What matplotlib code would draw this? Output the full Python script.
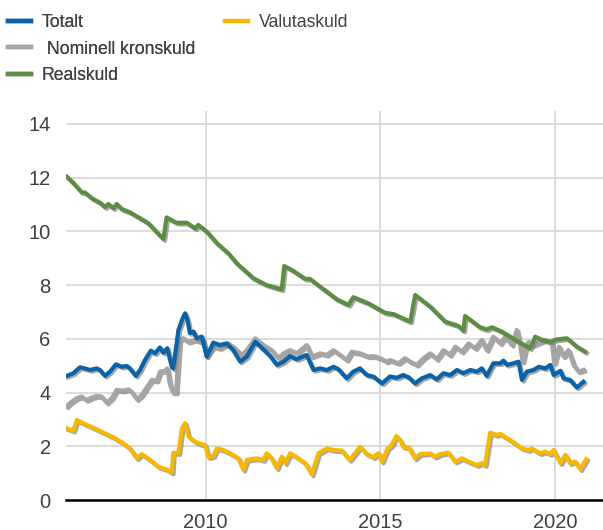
import matplotlib
matplotlib.use("Agg")
import matplotlib.pyplot as plt
import matplotlib.patheffects as pe
from matplotlib.lines import Line2D

plt.rcParams['font.family'] = ['Liberation Sans', 'DejaVu Sans']

# decimal year / percent
tot_x = [2006.02, 2006.21, 2006.40, 2006.54, 2006.69, 2006.88, 2006.97, 2007.12, 2007.26, 2007.43,
         2007.60, 2007.74, 2007.83, 2008.00, 2008.12, 2008.26, 2008.43, 2008.55, 2008.69, 2008.79,
         2008.90, 2009.03, 2009.07, 2009.22, 2009.34, 2009.41, 2009.48, 2009.55, 2009.65, 2009.74,
         2009.89, 2010.03, 2010.22, 2010.41, 2010.60, 2010.79, 2010.99, 2011.18, 2011.42, 2011.65,
         2011.85, 2012.04, 2012.23, 2012.42, 2012.61, 2012.89, 2013.09, 2013.28, 2013.47, 2013.66,
         2013.80, 2014.04, 2014.23, 2014.42, 2014.62, 2014.81, 2015.05, 2015.28, 2015.47, 2015.66,
         2015.81, 2016.00, 2016.19, 2016.43, 2016.62, 2016.81, 2017.00, 2017.20, 2017.38, 2017.58,
         2017.77, 2017.91, 2018.05, 2018.24, 2018.44, 2018.53, 2018.63, 2018.87, 2018.96, 2019.06,
         2019.20, 2019.39, 2019.54, 2019.73, 2019.87, 2019.97, 2020.16, 2020.25, 2020.44, 2020.63,
         2020.82]
tot_y = [4.62, 4.72, 4.94, 4.90, 4.84, 4.90, 4.84, 4.62, 4.78, 5.05,
         4.96, 4.99, 4.90, 4.62, 4.84, 5.21, 5.56, 5.46, 5.68, 5.48,
         5.65, 4.96, 4.90, 6.33, 6.76, 6.95, 6.70, 6.21, 6.27, 6.02,
         6.08, 5.34, 5.86, 5.77, 5.83, 5.58, 5.15, 5.34, 5.89, 5.61,
         5.36, 5.03, 5.15, 5.36, 5.24, 5.40, 4.84, 4.90, 4.84, 4.96,
         4.87, 4.53, 4.78, 4.90, 4.65, 4.59, 4.34, 4.60, 4.55, 4.65,
         4.57, 4.34, 4.53, 4.65, 4.49, 4.72, 4.65, 4.84, 4.72, 4.84,
         4.78, 4.90, 4.62, 5.09, 5.09, 5.19, 5.03, 5.11, 5.15, 4.47,
         4.78, 4.84, 4.96, 4.90, 5.03, 4.65, 4.81, 4.53, 4.47, 4.19,
         4.40]

nom_x = [2006.02, 2006.16, 2006.31, 2006.45, 2006.59, 2006.74, 2006.88, 2007.02, 2007.17, 2007.31,
         2007.45, 2007.64, 2007.79, 2007.88, 2008.03, 2008.17, 2008.31, 2008.46, 2008.60, 2008.69,
         2008.84, 2008.90, 2008.98, 2009.06, 2009.15, 2009.25, 2009.36, 2009.50, 2009.70, 2009.84,
         2009.93, 2010.03, 2010.22, 2010.41, 2010.65, 2010.84, 2011.03, 2011.18, 2011.42, 2011.65,
         2011.89, 2012.08, 2012.23, 2012.42, 2012.61, 2012.89, 2013.04, 2013.28, 2013.47, 2013.66,
         2013.85, 2014.04, 2014.18, 2014.42, 2014.66, 2014.81, 2015.00, 2015.19, 2015.28, 2015.52,
         2015.71, 2015.86, 2016.05, 2016.24, 2016.43, 2016.62, 2016.81, 2017.00, 2017.15, 2017.34,
         2017.53, 2017.72, 2017.91, 2018.05, 2018.24, 2018.44, 2018.58, 2018.77, 2018.91, 2019.01,
         2019.08, 2019.15, 2019.25, 2019.39, 2019.54, 2019.73, 2019.92, 2019.98, 2020.12, 2020.25,
         2020.39, 2020.54, 2020.68, 2020.82]
nom_y = [3.50, 3.66, 3.79, 3.85, 3.72, 3.82, 3.87, 3.85, 3.62, 3.79,
         4.10, 4.07, 4.12, 4.03, 3.75, 3.91, 4.19, 4.47, 4.44, 4.78,
         4.81, 4.90, 4.28, 4.00, 4.00, 5.96, 6.02, 5.89, 5.96, 5.90,
         5.96, 5.36, 5.71, 5.65, 5.83, 5.65, 5.40, 5.58, 6.02, 5.77,
         5.58, 5.28, 5.46, 5.58, 5.46, 5.77, 5.34, 5.46, 5.40, 5.58,
         5.40, 5.21, 5.52, 5.46, 5.34, 5.36, 5.28, 5.15, 5.21, 5.09,
         5.28, 5.15, 5.03, 5.28, 5.46, 5.24, 5.58, 5.40, 5.71, 5.52,
         5.83, 5.65, 5.96, 5.58, 6.08, 5.83, 6.08, 5.77, 6.33, 5.71,
         5.15, 5.58, 5.89, 5.77, 5.86, 5.96, 5.83, 5.09, 5.71, 5.34,
         5.58, 5.03, 4.78, 4.84]

real_x = [2006.02, 2006.26, 2006.45, 2006.54, 2006.74, 2006.97, 2007.12, 2007.21, 2007.36, 2007.45,
          2007.60, 2007.83, 2008.21, 2008.36, 2008.79, 2008.88, 2009.17, 2009.46, 2009.70, 2009.79,
          2010.03, 2010.32, 2010.65, 2010.89, 2011.37, 2011.75, 2012.18, 2012.25, 2012.51, 2012.85,
          2012.99, 2013.28, 2013.76, 2014.09, 2014.23, 2014.66, 2015.14, 2015.38, 2015.86, 2016.00,
          2016.43, 2016.86, 2017.24, 2017.38, 2017.43, 2017.86, 2018.05, 2018.20, 2018.48, 2018.96,
          2019.30, 2019.44, 2019.63, 2019.87, 2020.06, 2020.35, 2020.63, 2020.87]
real_y = [12.04, 11.73, 11.45, 11.45, 11.23, 11.07, 10.90, 11.02, 10.86, 11.02,
          10.83, 10.71, 10.42, 10.30, 9.71, 10.52, 10.32, 10.32, 10.11, 10.24,
          9.99, 9.56, 9.18, 8.81, 8.25, 8.00, 7.84, 8.71, 8.53, 8.23,
          8.23, 7.94, 7.47, 7.26, 7.55, 7.32, 6.97, 6.92, 6.64, 7.63,
          7.20, 6.64, 6.48, 6.30, 6.85, 6.43, 6.35, 6.43, 6.27, 5.89,
          5.65, 6.08, 5.96, 5.89, 5.98, 6.02, 5.71, 5.52]

val_x = [2006.02, 2006.21, 2006.31, 2006.54, 2006.88, 2007.12, 2007.36, 2007.64, 2007.83, 2008.03,
         2008.17, 2008.41, 2008.64, 2008.88, 2009.03, 2009.07, 2009.22, 2009.32, 2009.41, 2009.51,
         2009.70, 2009.84, 2009.98, 2010.08, 2010.22, 2010.32, 2010.51, 2010.70, 2010.94, 2011.08,
         2011.18, 2011.46, 2011.65, 2011.75, 2011.89, 2012.04, 2012.18, 2012.28, 2012.42, 2012.61,
         2012.85, 2013.04, 2013.23, 2013.47, 2013.66, 2013.90, 2014.12, 2014.28, 2014.42, 2014.62,
         2014.81, 2014.95, 2015.05, 2015.21, 2015.33, 2015.46, 2015.57, 2015.66, 2015.81, 2016.00,
         2016.14, 2016.43, 2016.57, 2016.72, 2016.95, 2017.15, 2017.34, 2017.53, 2017.77, 2017.91,
         2018.00, 2018.15, 2018.34, 2018.44, 2018.72, 2019.06, 2019.25, 2019.34, 2019.58, 2019.73,
         2019.87, 2019.96, 2020.16, 2020.30, 2020.44, 2020.58, 2020.73, 2020.90]
val_y = [2.67, 2.58, 2.98, 2.83, 2.63, 2.48, 2.33, 2.11, 1.92, 1.55,
         1.71, 1.49, 1.24, 1.14, 1.02, 1.76, 1.74, 2.67, 2.86, 2.36,
         2.17, 2.09, 2.05, 1.59, 1.64, 1.92, 1.86, 1.74, 1.55, 1.12,
         1.49, 1.55, 1.49, 1.74, 1.55, 1.18, 1.61, 1.37, 1.74, 1.59,
         1.37, 0.95, 1.74, 1.92, 1.86, 1.84, 1.49, 1.74, 1.98, 1.71,
         1.59, 1.74, 1.43, 1.92, 2.05, 2.38, 2.23, 1.98, 1.96, 1.55,
         1.71, 1.74, 1.61, 1.71, 1.76, 1.43, 1.55, 1.43, 1.30, 1.37,
         1.30, 2.51, 2.42, 2.46, 2.23, 1.92, 1.86, 1.92, 1.74, 1.80,
         1.71, 1.86, 1.37, 1.68, 1.37, 1.43, 1.14, 1.52]

c_tot = '#0a62a8'
c_nom = '#a5a5a5'
c_real = '#5b8e42'
c_val = '#f7b800'
txt = '#404040'

fig = plt.figure(figsize=(6.03, 5.30), dpi=100)
ax = fig.add_axes([66 / 603, 30 / 530, 537 / 603, 389.5 / 530])

shadow = [pe.SimpleLineShadow(offset=(1.2, -1.2), shadow_color='#808080', alpha=0.7), pe.Normal()]
lw = 3.0
ax.plot(nom_x, nom_y, color=c_nom, lw=lw, path_effects=shadow, solid_joinstyle='round')
ax.plot(real_x, real_y, color=c_real, lw=lw, path_effects=shadow, solid_joinstyle='round')
ax.plot(tot_x, tot_y, color=c_tot, lw=lw, path_effects=shadow, solid_joinstyle='round')
ax.plot(val_x, val_y, color=c_val, lw=lw, path_effects=shadow, solid_joinstyle='round')

ax.set_xlim(2006.0, 2021.38)
ax.set_ylim(0, 14.5)
ax.set_yticks(range(0, 15, 2))
ax.set_xticks([2010, 2015, 2020])
ax.grid(True, color='#d9d9d9', lw=1.3)
ax.set_axisbelow(True)
for s in ['top', 'right', 'left']:
    ax.spines[s].set_visible(False)
ax.spines['bottom'].set_color('black')
ax.spines['bottom'].set_linewidth(1.8)
ax.tick_params(axis='both', length=0, labelsize=14.5, colors=txt)
ax.tick_params(axis='y', pad=11)
ax.tick_params(axis='x', pad=9)

h1 = [Line2D([], [], color=c, lw=3.2) for c in (c_tot, c_nom, c_real)]
leg1 = fig.legend(h1, ['Totalt', ' Nominell kronskuld', 'Realskuld'], loc='upper left',
                  bbox_to_anchor=(0.0, 1 - 6 / 530), frameon=False, fontsize=12.7, handlelength=1.3,
                  handletextpad=0.62, labelspacing=0.55, borderaxespad=0, borderpad=0.45,
                  labelcolor=txt)
fig.add_artist(leg1)
h2 = [Line2D([], [], color=c_val, lw=3.2)]
fig.legend(h2, ['Valutaskuld'], loc='upper left', bbox_to_anchor=(217 / 603, 1 - 6 / 530),
           frameon=False, fontsize=12.7, handlelength=1.3, handletextpad=0.62, borderaxespad=0,
           borderpad=0.45, labelcolor=txt)

fig.savefig('out.png', dpi=100)
